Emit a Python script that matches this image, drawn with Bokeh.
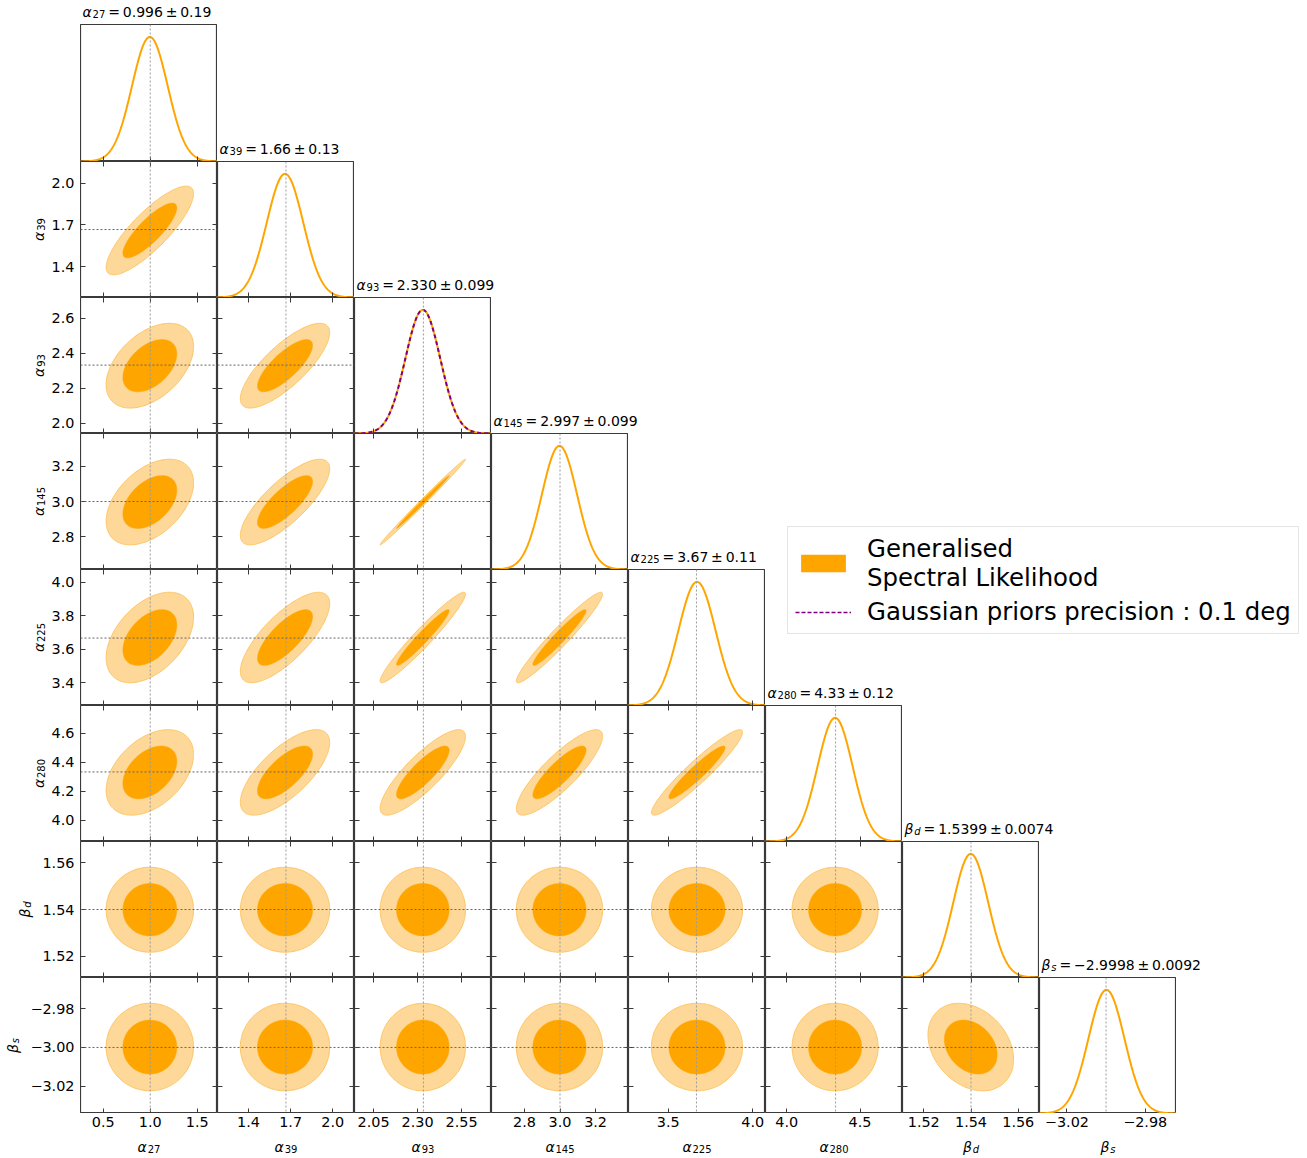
import numpy as np
from bokeh.plotting import figure
from bokeh.models import (LinearAxis, FixedTicker, Range1d, Label, Span,
                          Legend, LegendItem, GridBox)
from bokeh.embed import file_html
from bokeh.resources import INLINE

# ---- sampled parameters -------------------------------------------------
symbols = ["α", "α", "α", "α", "α", "α", "β", "β"]
subscripts = ["27", "39", "93", "145", "225", "280", "d", "s"]
means = [0.996, 1.66, 2.330, 2.997, 3.67, 4.33, 1.5399, -2.9998]
sigmas = [0.19, 0.13, 0.099, 0.099, 0.11, 0.12, 0.0074, 0.0092]
mean_labels = ["0.996", "1.66", "2.330", "2.997", "3.67", "4.33", "1.5399", "−2.9998"]
sigma_labels = ["0.19", "0.13", "0.099", "0.099", "0.11", "0.12", "0.0074", "0.0092"]
true_values = [1.0, 1.6667, 2.3333, 3.0, 3.6667, 4.3333, 1.54, -3.0]

# pairwise correlation coefficients, lower triangle (row parameter, column parameter)
correlations = [
    [],
    [0.83],
    [0.45, 0.78],
    [0.45, 0.78, 0.996],
    [0.45, 0.75, 0.96, 0.96],
    [0.42, 0.70, 0.84, 0.85, 0.94],
    [0.0, 0.0, 0.0, 0.0, 0.0, 0.0],
    [0.0, 0.0, 0.0, 0.0, 0.0, 0.0, -0.28],
]

# Gaussian prior on alpha_93
prior_index = 2
prior_mean = 2.330
prior_sigma = 0.099

# ---- axis limits and ticks ----------------------------------------------
axis_lo = [0.258, 1.179, 1.942, 2.615, 3.265, 3.855, 1.511, -3.034]
axis_hi = [1.716, 2.155, 2.720, 3.385, 4.075, 4.790, 1.569, -2.964]
x_ticks = [[0.5, 1.0, 1.5], [1.4, 1.7, 2.0], [2.05, 2.30, 2.55], [2.8, 3.0, 3.2],
           [3.5, 4.0], [4.0, 4.5], [1.52, 1.54, 1.56], [-3.02, -2.98]]
x_tick_labels = [["0.5", "1.0", "1.5"], ["1.4", "1.7", "2.0"], ["2.05", "2.30", "2.55"],
                 ["2.8", "3.0", "3.2"], ["3.5", "4.0"], ["4.0", "4.5"],
                 ["1.52", "1.54", "1.56"], ["−3.02", "−2.98"]]
y_ticks = [[], [1.4, 1.7, 2.0], [2.0, 2.2, 2.4, 2.6], [2.8, 3.0, 3.2],
           [3.4, 3.6, 3.8, 4.0], [4.0, 4.2, 4.4, 4.6], [1.52, 1.54, 1.56],
           [-3.02, -3.00, -2.98]]
y_tick_labels = [[], ["1.4", "1.7", "2.0"], ["2.0", "2.2", "2.4", "2.6"],
                 ["2.8", "3.0", "3.2"], ["3.4", "3.6", "3.8", "4.0"],
                 ["4.0", "4.2", "4.4", "4.6"], ["1.52", "1.54", "1.56"],
                 ["−3.02", "−3.00", "−2.98"]]

legend_labels = ["Generalised\nSpectral Likelihood", "Gaussian priors precision : 0.1 deg"]

# ---- styling --------------------------------------------------------------
FONT = "DejaVu Sans"
TICK_PX = 14.4
MAIN_PX = 14.0
SUB_PX = 10.0
INNER = "#ffa500"
OUTER_FILL = "#fed898"
OUTER_LINE = "#fdc462"
FRAME = "#3a3a3a"
PRIOR_COLOR = "#800080"
THIN = "\u2009"

# grid tracks: title row, eight parameter rows, tick-label row
ROW_TRACKS = [24, 137, 136, 136, 136, 136, 136, 136, 136, 45]
# grid tracks: label column, eight parameter columns, right margin
COL_TRACKS = [80] + [137] * 8 + [131]
N = len(means)

EM = {".": 0.318, " ": 0.318, "=": 0.838, "±": 0.838, "−": 0.838,
      "α": 0.66, "β": 0.64, "d": 0.635, "s": 0.521}


def text_width(s, px):
    return sum(EM.get(ch, 0.636) for ch in s) * px


def tick_axis(ticks, fixed):
    # inward ticks only; labels are drawn by the label strips
    return LinearAxis(ticker=FixedTicker(ticks=ticks), fixed_location=fixed,
                      major_tick_in=5, major_tick_out=0,
                      minor_tick_line_color=None, major_tick_line_color=FRAME,
                      major_tick_line_width=1, axis_line_color=None,
                      major_label_text_font_size="0px",
                      major_label_text_color=None, major_label_standoff=0)


def panel_fig(width, height, xr, yr):
    p = figure(width=width, height=height, x_range=xr, y_range=yr,
               output_backend="svg", toolbar_location=None,
               x_axis_location=None, y_axis_location=None, min_border=0)
    p.outline_line_color = FRAME
    p.outline_line_width = 1.2
    p.xgrid.grid_line_color = None
    p.ygrid.grid_line_color = None
    p.background_fill_color = "white"
    p.border_fill_color = None
    return p


def blank_fig(width, height, xr, yr):
    p = figure(width=width, height=height, x_range=xr, y_range=yr,
               output_backend="svg", toolbar_location=None,
               x_axis_location=None, y_axis_location=None, min_border=0)
    p.outline_line_color = None
    p.background_fill_color = None
    p.border_fill_color = None
    p.xgrid.grid_line_color = None
    p.ygrid.grid_line_color = None
    return p


def add_math(p, x, y, sym, sub, rest, dx0, dy0, angle=0.0, center=False):
    w_sym = text_width(sym, MAIN_PX)
    w_sub = text_width(sub, SUB_PX)
    pieces = [(sym, MAIN_PX, "italic", 0.0, 0.0),
              (sub, SUB_PX, "italic" if sub.isalpha() else "normal", w_sym + 0.8, -2.5)]
    total = w_sym + 0.8 + w_sub
    if rest:
        pieces.append((rest, MAIN_PX, "normal", total + 3.0, 0.0))
    start = -total / 2 if center else 0.0
    for text, size, style, along, across in pieces:
        a = start + along
        if angle == 0.0:
            xo, yo = dx0 + a, dy0 + across
        else:
            xo, yo = dx0 - across, dy0 + a
        p.add_layout(Label(x=x, y=y, x_offset=xo, y_offset=yo, text=text, angle=angle,
                           text_font=FONT, text_font_size=f"{size}px",
                           text_font_style=style, text_baseline="alphabetic",
                           text_align="left", text_color="black"))


def title_text(k):
    return f"={THIN}{mean_labels[k]}{THIN}±{THIN}{sigma_labels[k]}"


R68 = np.sqrt(-2 * np.log(1 - 0.68))
R95 = np.sqrt(-2 * np.log(1 - 0.95))
theta = np.linspace(0, 2 * np.pi, 240)


def contour(j, i, r):
    sx, sy = sigmas[j], sigmas[i]
    rho = correlations[i][j]
    cov = np.array([[sx * sx, rho * sx * sy], [rho * sx * sy, sy * sy]])
    L = np.linalg.cholesky(cov)
    pts = L @ np.vstack([r * np.cos(theta), r * np.sin(theta)])
    return pts[0] + means[j], pts[1] + means[i]


def gaussian(xs, m, s):
    return np.exp(-0.5 * ((xs - m) / s) ** 2)


ranges = [Range1d(axis_lo[k], axis_hi[k]) for k in range(N)]
children = []


def place(p, row, col, rowspan=1, colspan=1):
    children.append((p, row, col, rowspan, colspan))


def span_size(tracks, start, count):
    return sum(tracks[start:start + count])


# ---- diagonal 1D marginals ------------------------------------------------
for k in range(N):
    p = panel_fig(COL_TRACKS[k + 1], ROW_TRACKS[k + 1], ranges[k], Range1d(0, 1.1))
    p.add_layout(tick_axis(x_ticks[k], 0), "below")
    xs = np.linspace(axis_lo[k], axis_hi[k], 400)
    p.line(xs, gaussian(xs, means[k], sigmas[k]), line_color=INNER, line_width=2)
    if k == prior_index:
        p.line(xs, gaussian(xs, prior_mean, prior_sigma),
               line_color=PRIOR_COLOR, line_width=2, line_dash="4 3")
    p.add_layout(Span(location=true_values[k], dimension="height",
                      line_color="#9a9a9a", line_dash="2 2", line_width=1))
    place(p, k + 1, k + 1)

# ---- off-diagonal 2D posteriors -------------------------------------------
for i in range(1, N):
    for j in range(i):
        p = panel_fig(COL_TRACKS[j + 1], ROW_TRACKS[i + 1], ranges[j], ranges[i])
        p.add_layout(tick_axis(x_ticks[j], axis_lo[i]), "below")
        p.add_layout(tick_axis(x_ticks[j], axis_hi[i]), "above")
        p.add_layout(tick_axis(y_ticks[i], axis_lo[j]), "left")
        p.add_layout(tick_axis(y_ticks[i], axis_hi[j]), "right")

        ox, oy = contour(j, i, R95)
        p.patch(ox, oy, fill_color=OUTER_FILL, line_color=OUTER_LINE, line_width=1)
        ix, iy = contour(j, i, R68)
        p.patch(ix, iy, fill_color=INNER, line_color=INNER, line_width=0.5)

        p.add_layout(Span(location=true_values[j], dimension="height",
                          line_color="#9a9a9a", line_dash="2 2", line_width=1))
        p.add_layout(Span(location=true_values[i], dimension="width",
                          line_color="#666666", line_dash="2 2", line_width=1))
        place(p, i + 1, j + 1)

# ---- left strip: y tick labels and parameter names ---------------------------
for i in range(1, N):
    p = blank_fig(COL_TRACKS[0], ROW_TRACKS[i + 1], Range1d(0, 1), ranges[i])
    for t, lab in zip(y_ticks[i], y_tick_labels[i]):
        p.add_layout(Label(x=1, y=t, x_offset=-6, text=lab, text_font=FONT,
                           text_font_size=f"{TICK_PX}px", text_align="right",
                           text_baseline="middle", text_color="black"))
    # the name sits just left of the widest tick label of its row
    tick_left = COL_TRACKS[0] - 6 - max(text_width(s, TICK_PX) for s in y_tick_labels[i])
    name_x = tick_left - 13 - (4 if symbols[i] == "β" else 0)
    add_math(p, 0, 0.5 * (axis_lo[i] + axis_hi[i]), symbols[i], subscripts[i], "",
             name_x, 0, angle=np.pi / 2, center=True)
    place(p, i + 1, 0)

# ---- bottom strip: x tick labels and parameter names -------------------------
for j in range(N):
    p = blank_fig(COL_TRACKS[j + 1], ROW_TRACKS[-1], ranges[j], Range1d(0, 1))
    for t, lab in zip(x_ticks[j], x_tick_labels[j]):
        p.add_layout(Label(x=t, y=1, y_offset=-3, text=lab, text_font=FONT,
                           text_font_size=f"{TICK_PX}px", text_align="center",
                           text_baseline="top", text_color="black"))
    add_math(p, 0.5 * (axis_lo[j] + axis_hi[j]), 1, symbols[j], subscripts[j], "",
             0, -33, center=True)
    place(p, len(ROW_TRACKS) - 1, j + 1)

# ---- summary titles above each marginal --------------------------------------
title_spans = {0: 1, 1: 1, 2: 2, 3: 2, 4: 1, 6: 2, 7: 2}
for k, cspan in title_spans.items():
    p = blank_fig(span_size(COL_TRACKS, k + 1, cspan), ROW_TRACKS[k],
                  Range1d(0, 1), Range1d(0, 1))
    add_math(p, 0, 0, symbols[k], subscripts[k], title_text(k), 2, 13)
    place(p, k, k + 1, 1, cspan)

# ---- legend block (also carries the alpha_280 summary) -----------------------
lp = blank_fig(span_size(COL_TRACKS, 6, 4), span_size(ROW_TRACKS, 4, 2),
               Range1d(0, 1), Range1d(0, 1))
kx, ky = contour(0, 1, R68)
r_fill = lp.patch(kx, ky, fill_color=INNER, line_color=None, visible=False)
px_ = np.linspace(axis_lo[prior_index], axis_hi[prior_index], 50)
r_prior = lp.line(px_, gaussian(px_, prior_mean, prior_sigma), line_color=PRIOR_COLOR,
                  line_dash="4 2", line_width=1.5, visible=False)
legend = Legend(items=[LegendItem(label=legend_labels[0], renderers=[r_fill]),
                       LegendItem(label=legend_labels[1], renderers=[r_prior])],
                location=(22, 71), label_text_font=FONT, label_text_font_size="24.4px",
                label_text_color="black", label_text_line_height=1.1,
                glyph_width=56, glyph_height=22, label_standoff=16, padding=7,
                spacing=5, margin=0, border_line_color="#cccccc", border_line_width=1,
                background_fill_color="white", background_fill_alpha=1.0,
                inactive_fill_alpha=0.0, click_policy="none")
lp.add_layout(legend)
add_math(lp, 0, 0, symbols[5], subscripts[5], title_text(5), 2, 13)
place(lp, 4, 6, 2, 4)

grid = GridBox(children=children,
               rows=[f"{h}px" for h in ROW_TRACKS],
               cols=[f"{w}px" for w in COL_TRACKS],
               spacing=0)

open("out.html", "w").write(file_html(grid, INLINE))
